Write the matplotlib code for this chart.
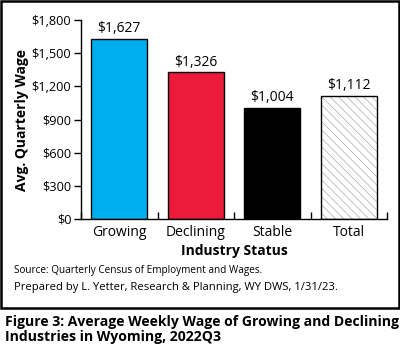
import matplotlib
matplotlib.use("Agg")
from matplotlib import pyplot as plt
from matplotlib.patches import Rectangle
import numpy as np

categories = ["Growing", "Declining", "Stable", "Total"]
wages = [1627, 1326, 1004, 1112]
y_ticks = [0, 300, 600, 900, 1200, 1500, 1800]

colors = ["#00AEEF", "#ED1B3A", "#000000", "#FFFFFF"]

plt.rcParams['font.family'] = ['Open Sans', 'DejaVu Sans']
plt.rcParams['hatch.linewidth'] = 0.5

fig = plt.figure(figsize=(4.0, 3.49), dpi=100)
ax = fig.add_axes([0.2025, 0.3725, 0.765, 0.570])

x = np.arange(len(categories))
bars = ax.bar(x, wages, width=0.73, color=colors, edgecolor="black", linewidth=1.0)
# hatched fill for the Total bar, light grey lines, then black outline on top
bars[3].set_visible(False)
ax.bar(x[3], wages[3], width=0.73, color="white", edgecolor="#aaaaaa", linewidth=0,
       hatch="\\\\\\\\")
ax.bar(x[3], wages[3], width=0.73, fill=False, edgecolor="black", linewidth=1.0)

for xi, v in zip(x, wages):
    ax.text(xi, v + 25, "${:,}".format(v), ha="center", va="bottom", fontsize=10)

ax.set_xlim(-0.5, 3.5)
ax.set_ylim(0, 1800)
ax.set_yticks(y_ticks)
ax.set_yticklabels(["${:,}".format(t) for t in y_ticks], fontsize=9.2)
ax.set_xticks(x)
ax.set_xticklabels(categories, fontsize=10)
ax.tick_params(axis="x", length=0, pad=4)
ax.set_xticks(np.arange(-0.5, 4.0, 1.0), minor=True)
ax.tick_params(axis="x", which="minor", direction="in", length=5, width=1)
ax.tick_params(axis="y", direction="out", length=5, width=1, pad=2)

for s in ["top", "right"]:
    ax.spines[s].set_visible(False)
for s in ["left", "bottom"]:
    ax.spines[s].set_linewidth(1.0)

ax.set_ylabel("Avg. Quarterly Wage", fontsize=10, fontweight="bold")
ax.yaxis.set_label_coords(-0.17, 0.5)
ax.set_xlabel("Industry Status", fontsize=10, fontweight="bold", labelpad=3)

# outer frame
fig.patches.append(Rectangle((0.003, 0.118), 0.994, 0.879, transform=fig.transFigure,
                             fill=False, edgecolor="black", linewidth=1.8))

fig.text(0.035, 0.224, "Source: Quarterly Census of Employment and Wages.", fontsize=7.2, va="center")
fig.text(0.035, 0.177, "Prepared by L. Yetter, Research & Planning, WY DWS, 1/31/23.", fontsize=8.1, va="center")

fig.text(0.012, 0.077, "Figure 3: Average Weekly Wage of Growing and Declining", fontsize=10.1,
         fontweight="bold", va="center")
fig.text(0.012, 0.033, "Industries in Wyoming, 2022Q3", fontsize=10.1, fontweight="bold", va="center")

fig.savefig("out.png", dpi=100)
